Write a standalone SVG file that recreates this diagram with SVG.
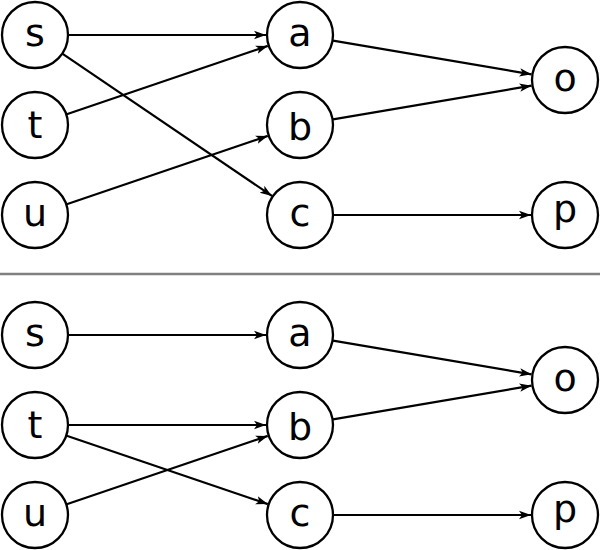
<svg xmlns="http://www.w3.org/2000/svg" width="600" height="550" viewBox="0 0 600 550">
<style>
.node circle{fill:#fff;stroke:#000;stroke-width:2.3}
.node text{font-family:"DejaVu Sans",sans-serif;font-size:38px;text-anchor:middle;fill:#000}
.edges line{stroke:#000;stroke-width:2.2;marker-end:url(#arr)}
</style>
<defs>
<marker id="arr" markerUnits="userSpaceOnUse" markerWidth="13" markerHeight="10" viewBox="0 0 13 10" refX="12" refY="5" orient="auto">
<path d="M0,0.8 L12,5 L0,9.2 L3,5 z" fill="#000"/>
</marker>
</defs>
<rect width="600" height="550" fill="#fff"/>
<line x1="0" y1="274" x2="600" y2="274" stroke="#808080" stroke-width="2.3"/>
<g class="edges">
<line x1="68.5" y1="35" x2="266" y2="35"/>
<line x1="62.7" y1="53.8" x2="271.9" y2="195.9"/>
<line x1="66.7" y1="114.2" x2="267.8" y2="45.9"/>
<line x1="66.7" y1="204.2" x2="267.8" y2="135.9"/>
<line x1="333" y1="40.6" x2="531.5" y2="74.3"/>
<line x1="333" y1="119.4" x2="531.5" y2="85.7"/>
<line x1="333.5" y1="215" x2="531" y2="215"/>
<line x1="68.5" y1="335" x2="266" y2="335"/>
<line x1="68.5" y1="425" x2="266" y2="425"/>
<line x1="66.7" y1="435.8" x2="267.8" y2="504.1"/>
<line x1="66.7" y1="504.2" x2="267.8" y2="435.9"/>
<line x1="333" y1="340.6" x2="531.5" y2="374.3"/>
<line x1="333" y1="419.4" x2="531.5" y2="385.7"/>
<line x1="333.5" y1="515" x2="531" y2="515"/>
</g>
<g id="s1" class="node"><circle cx="35" cy="35" r="33"/><text x="35" y="46">s</text></g>
<g id="t1" class="node"><circle cx="35" cy="125" r="33"/><text x="35" y="138">t</text></g>
<g id="u1" class="node"><circle cx="35" cy="215" r="33"/><text x="35" y="225.5">u</text></g>
<g id="a1" class="node"><circle cx="300" cy="35" r="33"/><text x="300" y="46">a</text></g>
<g id="b1" class="node"><circle cx="300" cy="125" r="33"/><text x="300" y="140">b</text></g>
<g id="c1" class="node"><circle cx="300" cy="215" r="33"/><text x="300" y="226">c</text></g>
<g id="o1" class="node"><circle cx="565" cy="80" r="33"/><text x="565" y="91">o</text></g>
<g id="p1" class="node"><circle cx="565" cy="215" r="33"/><text x="565" y="222">p</text></g>
<g id="s2" class="node"><circle cx="35" cy="335" r="33"/><text x="35" y="346">s</text></g>
<g id="t2" class="node"><circle cx="35" cy="425" r="33"/><text x="35" y="438">t</text></g>
<g id="u2" class="node"><circle cx="35" cy="515" r="33"/><text x="35" y="525.5">u</text></g>
<g id="a2" class="node"><circle cx="300" cy="335" r="33"/><text x="300" y="346">a</text></g>
<g id="b2" class="node"><circle cx="300" cy="425" r="33"/><text x="300" y="440">b</text></g>
<g id="c2" class="node"><circle cx="300" cy="515" r="33"/><text x="300" y="526">c</text></g>
<g id="o2" class="node"><circle cx="565" cy="380" r="33"/><text x="565" y="391">o</text></g>
<g id="p2" class="node"><circle cx="565" cy="515" r="33"/><text x="565" y="522">p</text></g>
</svg>
